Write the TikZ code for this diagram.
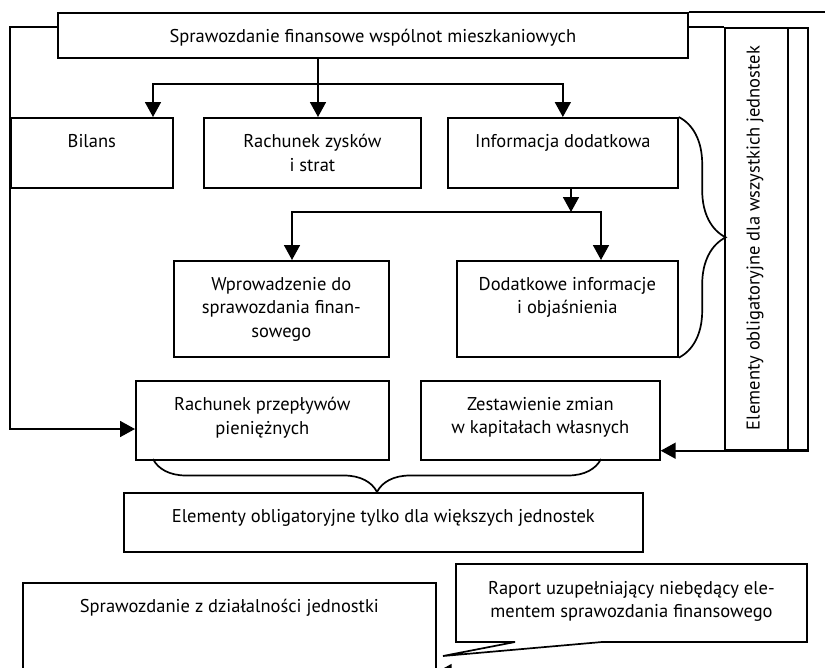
\documentclass[tikz,border=0pt]{standalone}
\usepackage{fontspec}
\setmainfont{PT Sans}
\usetikzlibrary{arrows.meta,decorations.pathreplacing,calc}

\tikzset{
  ramka/.style={draw, line width=1.7pt, anchor=north west, inner sep=0pt},
  opis/.style={anchor=north, align=center, inner sep=0pt, yshift=-17pt},
  linia/.style={line width=1.7pt},
  strzalka/.style={line width=1.7pt, -{Triangle[length=15pt,width=16pt]}},
  klamra/.style={line width=1.7pt, decorate, decoration={brace, amplitude=#1}},
}

\begin{document}
\begin{tikzpicture}[x=1pt, y=-1pt, font=\fontsize{18.5}{23.5}\selectfont]
    \useasboundingbox (0,0) rectangle (825,667);
    \clip (0,0) rectangle (825,667);

    % glowne sprawozdanie
    \node[ramka, minimum width=630pt, minimum height=45pt,
          label={[opis]north:{Sprawozdanie finansowe wspólnot mieszkaniowych}}] (sf) at (57,12) {};

    % elementy obowiazkowe
    \node[ramka, minimum width=162pt, minimum height=70pt, label={[opis]north:{Bilans}}] (bilans) at (10,117) {};
    \node[ramka, minimum width=217pt, minimum height=70pt, label={[opis]north:{Rachunek zysków\\i strat}}] (rzis) at (203,117) {};
    \node[ramka, minimum width=230pt, minimum height=70pt, label={[opis]north:{Informacja dodatkowa}}] (info) at (447,117) {};
    \node[ramka, minimum width=215pt, minimum height=96pt, label={[opis]north:{Wprowadzenie do\\sprawozdania finan-\\sowego}}] (wprow) at (173,260) {};
    \node[ramka, minimum width=221pt, minimum height=96pt, label={[opis]north:{Dodatkowe informacje\\i objaśnienia}}] (dodat) at (456,260) {};

    % elementy dla wiekszych jednostek
    \node[ramka, minimum width=253pt, minimum height=79pt, label={[opis]north:{Rachunek przepływów\\pieniężnych}}] (rpp) at (135,380) {};
    \node[ramka, minimum width=239pt, minimum height=79pt, label={[opis]north:{Zestawienie zmian\\w kapitałach własnych}}] (zzk) at (420,380) {};
    \node[ramka, minimum width=519pt, minimum height=59pt, label={[opis]north:{Elementy obligatoryjne tylko dla większych jednostek}}] (tylko) at (123,492) {};

    % pionowa ramka po prawej
    \node[ramka, minimum width=83pt, minimum height=422pt] (wsz) at (724,27) {};
    \draw[linia] ($(wsz.north east)+(-21,0)$) -- ($(wsz.south east)+(-21,0)$);
    \node[rotate=90] (wsztxt) at (755,238) {Elementy obligatoryjne dla wszystkich jednostek};

    % raport
    \node[ramka, minimum width=413pt, minimum height=110pt, label={[opis]north:{Sprawozdanie z działalności jednostki}}] (dzial) at (22,582) {};
    \coordinate (grot) at (443,656);
    \draw[linia] (456,564) -- (807,564) -- (807,642) -- (602,642) -- (grot) -- (515,642) -- (456,642) -- cycle;
    \node[opis] (raport) at (631.5,564) {Raport uzupełniający niebędący ele-\\mentem sprawozdania finansowego};

    % polaczenia
    \coordinate (s1) at (318,84);
    \coordinate (b1) at (153,0);
    \draw[linia] (sf.south -| s1) -- (s1);
    \draw[strzalka] (s1) -- (rzis.north -| s1);
    \draw[strzalka] (s1) -| (bilans.north -| b1);
    \draw[strzalka] (s1) -| (info.north);

    \coordinate (s2) at (571,212);
    \coordinate (w1) at (292,0);
    \coordinate (d1) at (601,0);
    \draw[strzalka] (info.south -| s2) -- (s2);
    \draw[strzalka] (s2) -| (wprow.north -| w1);
    \draw[strzalka] (s2) -| (dodat.north -| d1);

    \coordinate (lewo) at (10,429);
    \draw[strzalka] ($(sf.north west)+(0,15)$) -| (lewo) -- (lewo -| rpp.west);
    \draw[strzalka] (wsz.south east) -- (wsz.south east -| zzk.east);
    \draw[linia] ($(sf.north east)+(0,15)$) -- (wsz.north west);
    \draw[linia] (sf.north east) -- ++(150,0);

    \coordinate (dol) at (480,672);
    \draw[strzalka] (dol) -- (dol -| dzial.east);

    % klamry
    \draw[klamra=47pt] (info.north east) -- (dodat.south east);
    \coordinate (k1) at (601,459);
    \coordinate (k2) at (153,459);
    \draw[klamra=33pt] (k1) -- (k2);
\end{tikzpicture}
\end{document}
